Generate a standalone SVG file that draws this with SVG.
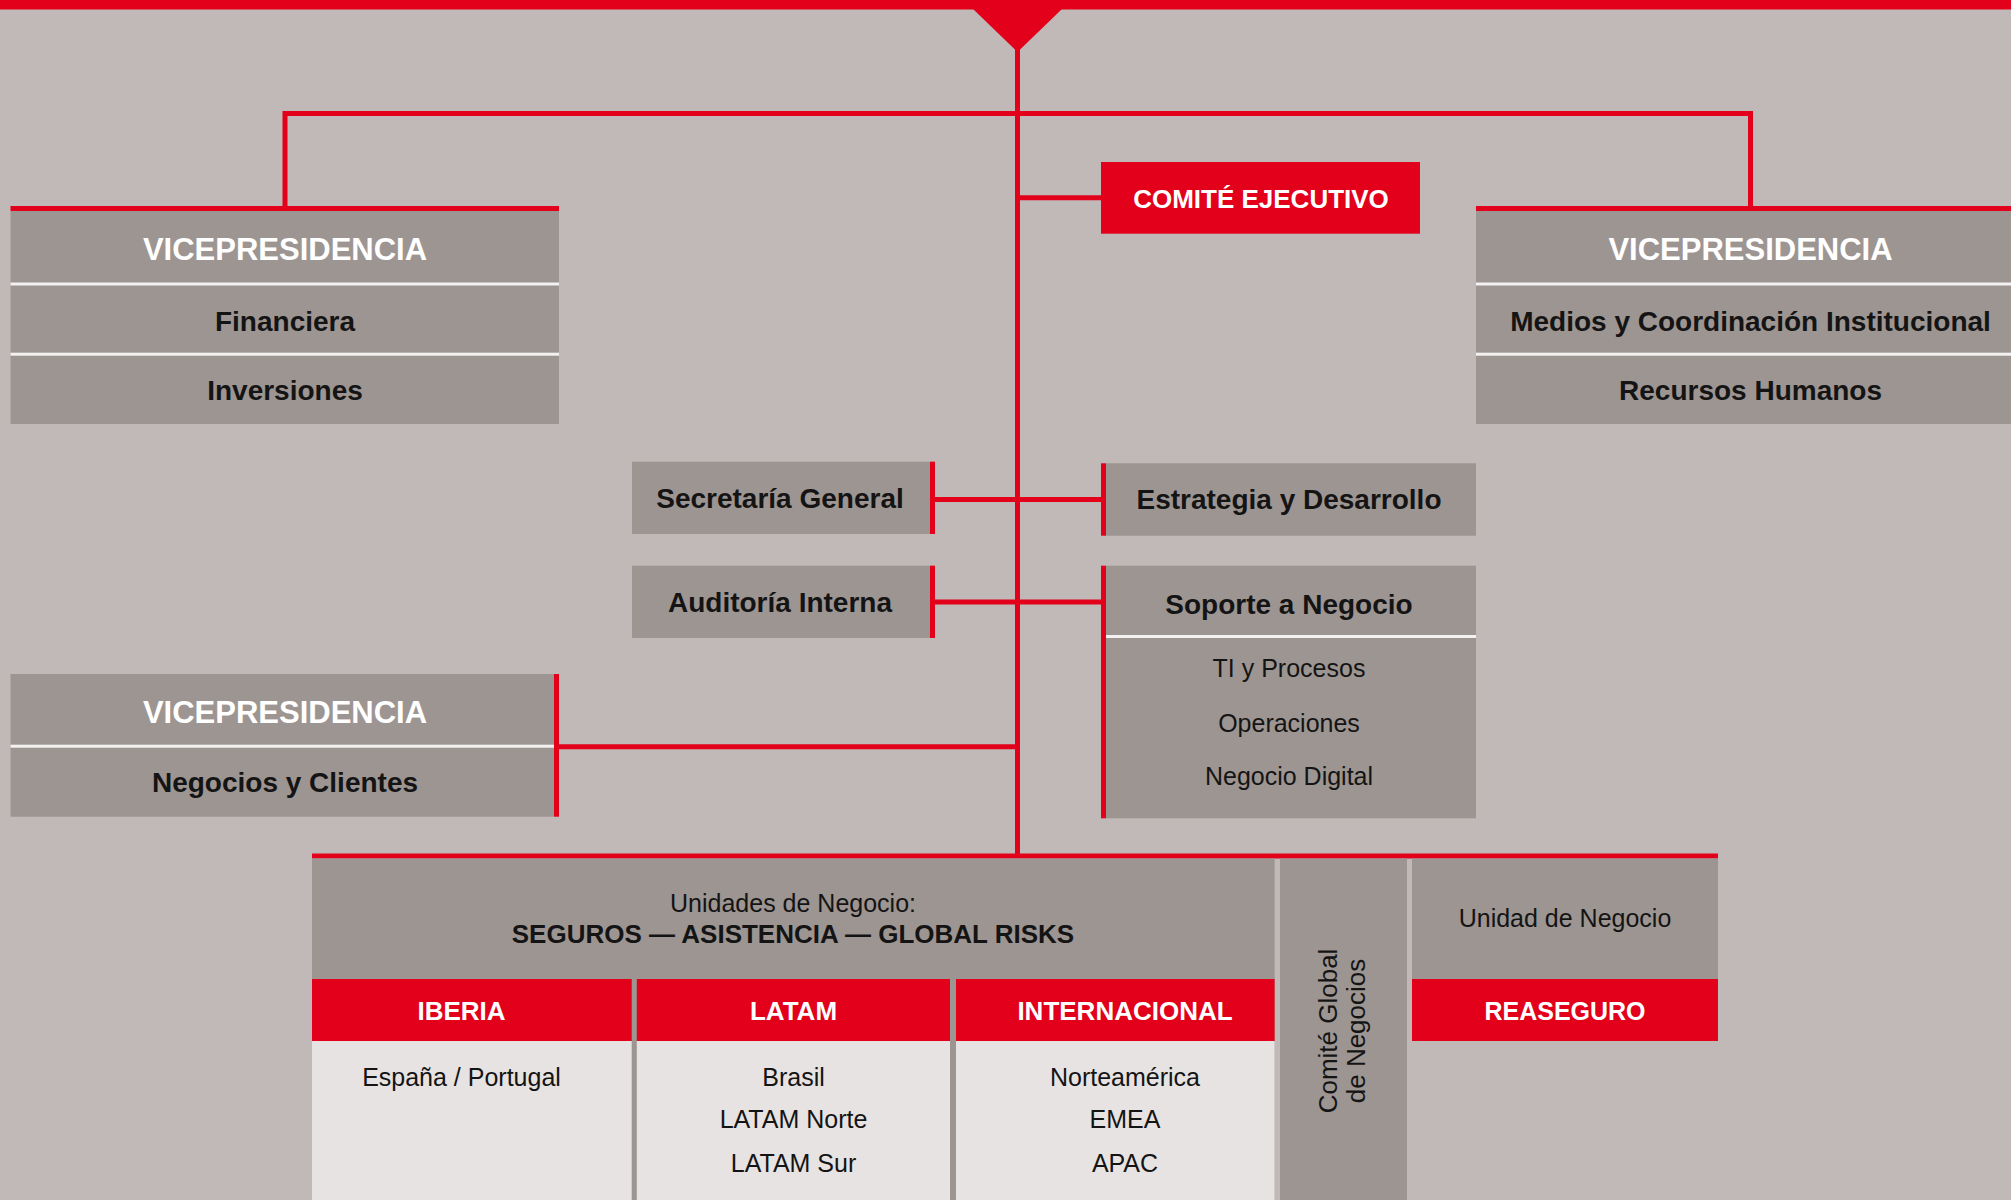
<svg xmlns="http://www.w3.org/2000/svg" width="2011" height="1200" viewBox="0 0 2011 1200">
<style>
.bg{fill:#c1b9b7}
.box{fill:#9d9592}
.red{fill:#e2001a}
.lt{fill:#e7e3e2}
.div{fill:#f4f2f1}
.conn{stroke:#e2001a;stroke-width:5;fill:none}
text{font-family:"Liberation Sans",Arial,sans-serif;text-anchor:middle}
.tt{font-weight:bold;font-size:31px;fill:#ffffff}
.tb{font-weight:bold;font-size:28px;fill:#141414}
.tr{font-size:25px;fill:#141414}
.tw{font-weight:bold;font-size:26px;fill:#ffffff}
</style>
<rect class="bg" x="0" y="0" width="2011" height="1200"/>
<rect class="red" x="0" y="0" width="2011" height="9.5"/>
<polygon class="red" points="973,9 1062,9 1017.5,52"/>

<g id="connectors">
  <line class="conn" x1="1017.5" y1="40" x2="1017.5" y2="856"/>
  <polyline class="conn" points="285,208 285,113.5 1750.5,113.5 1750.5,208"/>
  <line class="conn" x1="1017.5" y1="197.7" x2="1101" y2="197.7"/>
  <line class="conn" x1="935" y1="499.5" x2="1101" y2="499.5"/>
  <line class="conn" x1="935" y1="602" x2="1101" y2="602"/>
  <line class="conn" x1="559" y1="746.7" x2="1017.5" y2="746.7"/>
  <line class="conn" x1="312" y1="856" x2="1718" y2="856"/>
</g>

<g id="vp-financiera">
  <rect class="red" x="10.5" y="206" width="548.5" height="5"/>
  <rect class="box" x="10.5" y="211" width="548.5" height="213"/>
  <rect class="div" x="10.5" y="282.5" width="548.5" height="3"/>
  <rect class="div" x="10.5" y="352.7" width="548.5" height="3"/>
  <text class="tt" x="285" y="260">VICEPRESIDENCIA</text>
  <text class="tb" x="285" y="331">Financiera</text>
  <text class="tb" x="285" y="400">Inversiones</text>
</g>

<g id="comite-ejecutivo">
  <rect class="red" x="1101" y="162" width="319" height="71.7"/>
  <text class="tw" x="1261" y="208.3">COMITÉ EJECUTIVO</text>
</g>

<g id="vp-medios">
  <rect class="red" x="1476" y="206" width="549" height="5"/>
  <rect class="box" x="1476" y="211" width="549" height="213"/>
  <rect class="div" x="1476" y="282.5" width="549" height="3"/>
  <rect class="div" x="1476" y="352.7" width="549" height="3"/>
  <text class="tt" x="1750.5" y="260">VICEPRESIDENCIA</text>
  <text class="tb" x="1750.5" y="331">Medios y Coordinación Institucional</text>
  <text class="tb" x="1750.5" y="400">Recursos Humanos</text>
</g>

<g id="secretaria-general">
  <rect class="box" x="632" y="461.7" width="298" height="72.3"/>
  <rect class="red" x="930" y="461.7" width="5" height="72.3"/>
  <text class="tb" x="780" y="507.7">Secretaría General</text>
</g>

<g id="auditoria-interna">
  <rect class="box" x="632" y="565.7" width="298" height="72.3"/>
  <rect class="red" x="930" y="565.7" width="5" height="72.3"/>
  <text class="tb" x="780" y="611.7">Auditoría Interna</text>
</g>

<g id="estrategia-desarrollo">
  <rect class="red" x="1101" y="463.3" width="5" height="72.4"/>
  <rect class="box" x="1106" y="463.3" width="370" height="72.4"/>
  <text class="tb" x="1289" y="509.3">Estrategia y Desarrollo</text>
</g>

<g id="soporte-negocio">
  <rect class="red" x="1101" y="565.7" width="5" height="252.6"/>
  <rect class="box" x="1106" y="565.7" width="370" height="252.6"/>
  <rect class="div" x="1106" y="635" width="370" height="3"/>
  <text class="tb" x="1289" y="614.3">Soporte a Negocio</text>
  <text class="tr" x="1289" y="676.7">TI y Procesos</text>
  <text class="tr" x="1289" y="731.7">Operaciones</text>
  <text class="tr" x="1289" y="785">Negocio Digital</text>
</g>

<g id="vp-negocios">
  <rect class="box" x="10.5" y="674" width="543.5" height="142.7"/>
  <rect class="red" x="554" y="674" width="5" height="142.7"/>
  <rect class="div" x="10.5" y="744.7" width="543.5" height="3"/>
  <text class="tt" x="285" y="722.7">VICEPRESIDENCIA</text>
  <text class="tb" x="285" y="791.7">Negocios y Clientes</text>
</g>

<g id="unidades-negocio">
  <rect class="box" x="312" y="858.5" width="962.6" height="341.5"/>
  <text class="tr" x="793" y="911.7">Unidades de Negocio:</text>
  <text class="tb" x="793" y="943.3" style="font-size:26px">SEGUROS — ASISTENCIA — GLOBAL RISKS</text>
</g>

<g id="iberia">
  <rect class="red" x="312" y="979" width="319.7" height="62"/>
  <rect class="lt" x="312" y="1041" width="319.7" height="159"/>
  <text class="tw" x="461.5" y="1020.3">IBERIA</text>
  <text class="tr" x="461.5" y="1085.7">España / Portugal</text>
</g>

<g id="latam">
  <rect class="red" x="636.8" y="979" width="313.2" height="62"/>
  <rect class="lt" x="636.8" y="1041" width="313.2" height="159"/>
  <text class="tw" x="793.5" y="1020.3">LATAM</text>
  <text class="tr" x="793.5" y="1085.7">Brasil</text>
  <text class="tr" x="793.5" y="1128.3">LATAM Norte</text>
  <text class="tr" x="793.5" y="1171.7">LATAM Sur</text>
</g>

<g id="internacional">
  <rect class="red" x="956" y="979" width="318.6" height="62"/>
  <rect class="lt" x="956" y="1041" width="318.6" height="159"/>
  <text class="tw" x="1125" y="1020.3">INTERNACIONAL</text>
  <text class="tr" x="1125" y="1085.7">Norteamérica</text>
  <text class="tr" x="1125" y="1128.3">EMEA</text>
  <text class="tr" x="1125" y="1171.7">APAC</text>
</g>

<g id="comite-global">
  <rect class="box" x="1280" y="858.5" width="127" height="341.5"/>
  <text class="tr" transform="translate(1337,1031) rotate(-90)" style="font-size:26px">Comité Global</text>
  <text class="tr" transform="translate(1365,1031) rotate(-90)" style="font-size:26px">de Negocios</text>
</g>

<g id="reaseguro">
  <rect class="box" x="1412" y="858.5" width="306" height="120.5"/>
  <rect class="red" x="1412" y="979" width="306" height="62"/>
  <text class="tr" x="1565" y="927.3">Unidad de Negocio</text>
  <text class="tw" x="1565" y="1020.3" style="font-size:25px">REASEGURO</text>
</g>
</svg>
